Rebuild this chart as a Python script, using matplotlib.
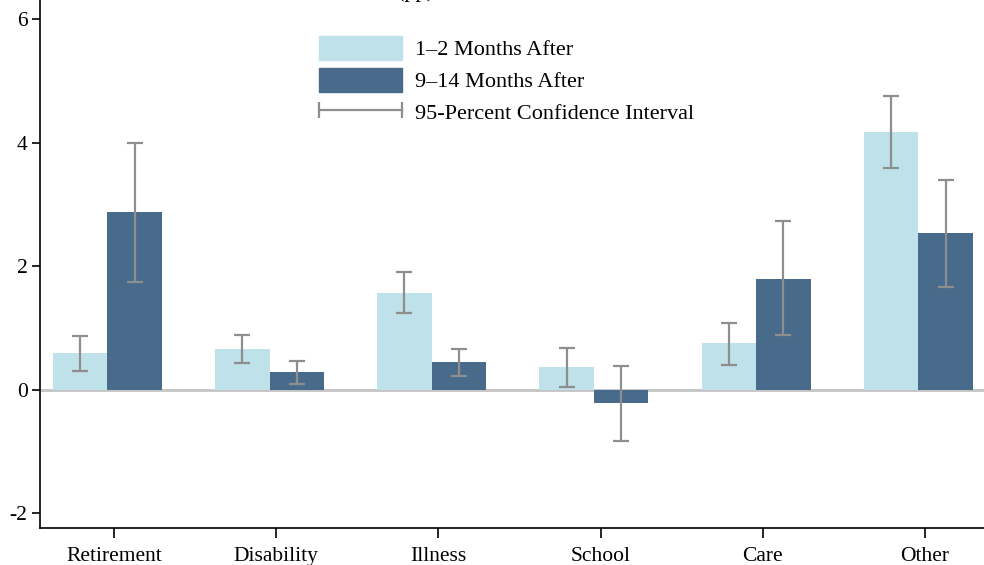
import numpy as np
import matplotlib.pyplot as plt
from matplotlib.patches import Patch
from matplotlib.lines import Line2D
from matplotlib.legend_handler import HandlerLine2D

# reasons for exit, change in pp
categories = ['Retirement', 'Disability', 'Illness', 'School', 'Care', 'Other']
short_vals = [0.59, 0.66, 1.56, 0.37, 0.75, 4.17]
short_lo = [0.30, 0.43, 1.24, 0.05, 0.40, 3.59]
short_hi = [0.87, 0.89, 1.90, 0.68, 1.08, 4.75]
long_vals = [2.87, 0.29, 0.45, -0.22, 1.80, 2.53]
long_lo = [1.74, 0.09, 0.22, -0.83, 0.88, 1.67]
long_hi = [3.99, 0.47, 0.66, 0.39, 2.73, 3.39]
yticks = [-2, 0, 2, 4, 6]

light = '#bfe1ea'
dark = '#486b8b'
gray = '#8e8e8e'

plt.rcParams['font.family'] = ['Liberation Serif', 'DejaVu Serif']
plt.rcParams['axes.unicode_minus'] = False

fig = plt.figure(figsize=(9.84, 5.65), dpi=100)
ax = fig.add_axes([40 / 984, 37 / 565, 944 / 984, 528 / 565])

x = np.arange(len(categories))
w = 0.336
ax.axhline(0, color='#c4c4c4', lw=2, zorder=1)
ax.bar(x - w / 2, short_vals, w, color=light, zorder=2)
ax.bar(x + w / 2, long_vals, w, color=dark, zorder=2)

sv, lv = np.array(short_vals), np.array(long_vals)
ax.errorbar(x - w / 2, sv, yerr=[sv - np.array(short_lo), np.array(short_hi) - sv],
            fmt='none', ecolor=gray, elinewidth=1.6, capsize=5.5, capthick=1.6, zorder=3)
ax.errorbar(x + w / 2, lv, yerr=[lv - np.array(long_lo), np.array(long_hi) - lv],
            fmt='none', ecolor=gray, elinewidth=1.6, capsize=5.5, capthick=1.6, zorder=3)

ax.set_xlim(-0.415, 5.405)
ax.set_ylim(-2.24, 6.31)
ax.set_xticks(x + 0.041)
ax.set_xticklabels(categories, fontsize=15.5)
ax.set_yticks(yticks)
ax.set_yticklabels([str(t) for t in yticks], fontsize=15.5)
ax.tick_params(axis='x', length=7, width=1.2, pad=6.5)
ax.tick_params(axis='y', length=6, width=1.2, pad=3)
for s in ['top', 'right']:
    ax.spines[s].set_visible(False)
for s in ['left', 'bottom']:
    ax.spines[s].set_linewidth(1.2)

ci_handle = Line2D([0], [0], color=gray, lw=1.6, marker='|', markersize=11, markeredgewidth=1.6)
handles = [Patch(color=light), Patch(color=dark), ci_handle]
labels = ['1\u20132 Months After', '9\u201314 Months After', '95-Percent Confidence Interval']
leg = fig.legend(handles, labels, loc='upper left', bbox_to_anchor=(319 / 984, 1 - 36 / 565),
                 frameon=False, fontsize=16, handlelength=3.75, handleheight=1.25,
                 handletextpad=0.55, labelspacing=0.35, borderpad=0, borderaxespad=0,
                 numpoints=2, handler_map={ci_handle: HandlerLine2D(marker_pad=0)})

fig.text(397 / 984, 1 + 3.5 / 565, '(pp)', fontsize=16, ha='left', va='baseline')

fig.savefig('out.png', dpi=100)
